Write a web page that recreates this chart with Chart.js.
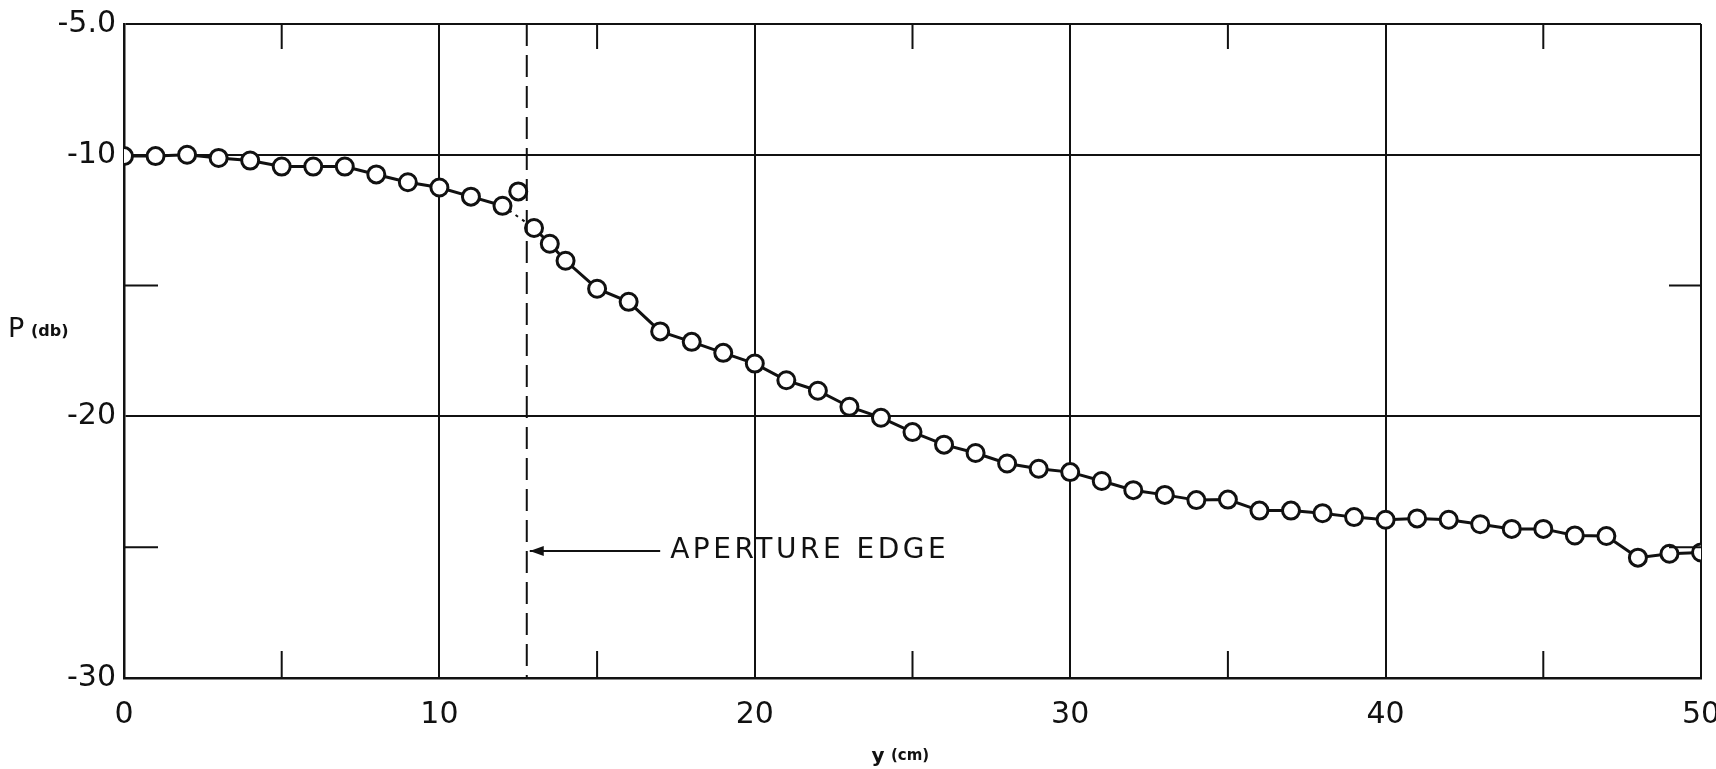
<!DOCTYPE html>
<html>
<head>
<meta charset="utf-8">
<script src="https://cdn.jsdelivr.net/npm/chart.js@4/dist/chart.umd.min.js"></script>
<style>
  html, body { margin: 0; padding: 0; background: #fff; }
  #wrap { width: 1716px; height: 769px; }
</style>
</head>
<body>
<div id="wrap"><canvas id="grafico" width="1716" height="769"></canvas></div>
<script>
// posições y (cm) e potência medida P (db)
const posicoes = [0, 1, 2, 3, 4, 5, 6, 7, 8, 9, 10, 11, 12, 13, 13.5, 14, 15, 16, 17, 18, 19, 20,
  21, 22, 23, 24, 25, 26, 27, 28, 29, 30, 31, 32, 33, 34, 35, 36, 37, 38, 39, 40,
  41, 42, 43, 44, 45, 46, 47, 48, 49, 50];
const potencias = [-10.05, -10.05, -10.0, -10.12, -10.22, -10.45, -10.45, -10.45, -10.75, -11.05, -11.25,
  -11.6, -11.95, -12.8, -13.4, -14.05, -15.12, -15.62, -16.75, -17.15, -17.57, -17.98,
  -18.62, -19.02, -19.63, -20.05, -20.6, -21.08, -21.4, -21.8, -22.0, -22.13,
  -22.47, -22.82, -23.0, -23.2, -23.18, -23.6, -23.6, -23.7, -23.85, -23.95,
  -23.9, -23.95, -24.12, -24.3, -24.3, -24.55, -24.57, -25.4, -25.25, -25.2];

// ponto isolado junto à borda da abertura
const pontoIsoladoX = [12.5];
const pontoIsoladoY = [-11.4];

// borda da abertura e anotação
const bordaAbertura = 12.77;
const textoAnotacao = 'APERTURE EDGE';
const anotacaoY = -25.15;
const anotacaoFimSeta = 17.0;

// rótulos dos eixos
const rotulosX = [0, 10, 20, 30, 40, 50];
const rotulosY = { '-5': '-5.0', '-10': '-10', '-20': '-20', '-30': '-30' };
const ticksMenoresX = [5, 15, 25, 35, 45];
const ticksMenoresY = [-15, -25];

const fonte = '"DejaVu Sans", sans-serif';

const pontos = posicoes.map((x, i) => ({ x, y: potencias[i] }));
const isolados = pontoIsoladoX.map((x, i) => ({ x, y: pontoIsoladoY[i] }));

// desenha a linha tracejada, ticks internos, anotação e títulos
const extras = {
  id: 'extras',
  afterDatasetsDraw(chart) {
    const { ctx, chartArea: a, scales: { x, y } } = chart;
    ctx.save();
    ctx.strokeStyle = '#111';
    ctx.fillStyle = '#111';

    // linha tracejada da borda
    const bx = x.getPixelForValue(bordaAbertura);
    ctx.lineWidth = 2;
    ctx.setLineDash([22, 9]);
    ctx.beginPath();
    ctx.moveTo(bx, a.top);
    ctx.lineTo(bx, a.bottom);
    ctx.stroke();
    ctx.setLineDash([]);

    // ticks internos
    ctx.lineWidth = 2;
    ticksMenoresX.forEach(v => {
      const px = x.getPixelForValue(v);
      ctx.beginPath();
      ctx.moveTo(px, a.bottom); ctx.lineTo(px, a.bottom - 27);
      ctx.moveTo(px, a.top); ctx.lineTo(px, a.top + 25);
      ctx.stroke();
    });
    ticksMenoresY.forEach(v => {
      const py = y.getPixelForValue(v);
      ctx.beginPath();
      ctx.moveTo(a.left, py); ctx.lineTo(a.left + 34, py);
      ctx.moveTo(a.right, py); ctx.lineTo(a.right - 32, py);
      ctx.stroke();
    });

    // seta da anotação
    const ay = y.getPixelForValue(anotacaoY);
    const ax2 = x.getPixelForValue(anotacaoFimSeta);
    ctx.lineWidth = 2;
    ctx.beginPath();
    ctx.moveTo(bx + 3, ay); ctx.lineTo(ax2, ay);
    ctx.stroke();
    ctx.beginPath();
    ctx.moveTo(bx + 3, ay);
    ctx.lineTo(bx + 17, ay - 5);
    ctx.lineTo(bx + 17, ay + 5);
    ctx.closePath();
    ctx.fill();

    ctx.font = '28px ' + fonte;
    ctx.letterSpacing = '3.5px';
    ctx.textAlign = 'left';
    ctx.textBaseline = 'middle';
    ctx.fillText(textoAnotacao, ax2 + 10, ay);
    ctx.letterSpacing = '0px';

    // título do eixo y
    ctx.font = '27px ' + fonte;
    ctx.fillText('P', 8, 330);
    ctx.font = 'bold 16px ' + fonte;
    ctx.fillText('(db)', 31, 332);

    // título do eixo x
    ctx.textAlign = 'center';
    ctx.font = 'bold 20px ' + fonte;
    ctx.fillText('y', 878, 757);
    ctx.font = 'bold 15px ' + fonte;
    ctx.fillText('(cm)', 910, 756);
    ctx.restore();
  }
};

new Chart(document.getElementById('grafico'), {
  type: 'scatter',
  data: {
    datasets: [{
      data: pontos,
      showLine: true,
      borderColor: '#111',
      borderWidth: 3,
      pointRadius: 8.5,
      pointBorderWidth: 3,
      pointBackgroundColor: '#fff',
      pointBorderColor: '#111',
      segment: {
        borderDash: c => c.p0.parsed.x === 12 ? [3, 5] : undefined,
        borderWidth: c => c.p0.parsed.x === 12 ? 2 : 3
      }
    }, {
      data: isolados,
      showLine: false,
      pointRadius: 8.5,
      pointBorderWidth: 3,
      pointBackgroundColor: '#fff',
      pointBorderColor: '#111'
    }]
  },
  options: {
    responsive: false,
    animation: false,
    layout: { padding: { top: 24, right: 15, left: 0, bottom: 0 } },
    plugins: { legend: { display: false }, tooltip: { enabled: false } },
    scales: {
      x: {
        type: 'linear',
        min: 0, max: 50,
        afterFit: s => { s.height = 91; s.paddingLeft = 0; s.paddingRight = 0; },
        ticks: {
          stepSize: 5,
          autoSkip: false,
          maxRotation: 0,
          padding: 19,
          color: '#111',
          font: { family: fonte, size: 30 },
          callback: v => rotulosX.includes(v) ? String(v) : ''
        },
        grid: {
          drawTicks: false,
          lineWidth: 2,
          color: c => rotulosX.includes(c.tick.value) ? '#111' : 'rgba(0,0,0,0)'
        },
        border: { display: true, color: '#111', width: 2.5 }
      },
      y: {
        min: -30, max: -5,
        afterFit: s => { s.width = 124; s.paddingTop = 0; s.paddingBottom = 0; },
        ticks: {
          stepSize: 5,
          autoSkip: false,
          padding: 8,
          color: '#111',
          font: { family: fonte, size: 30 },
          callback: v => rotulosY[String(v)] ?? ''
        },
        grid: {
          drawTicks: false,
          lineWidth: 2,
          color: c => rotulosY[String(c.tick.value)] ? '#111' : 'rgba(0,0,0,0)'
        },
        border: { display: true, color: '#111', width: 2.5 }
      }
    }
  },
  plugins: [extras]
});
</script>
</body>
</html>
